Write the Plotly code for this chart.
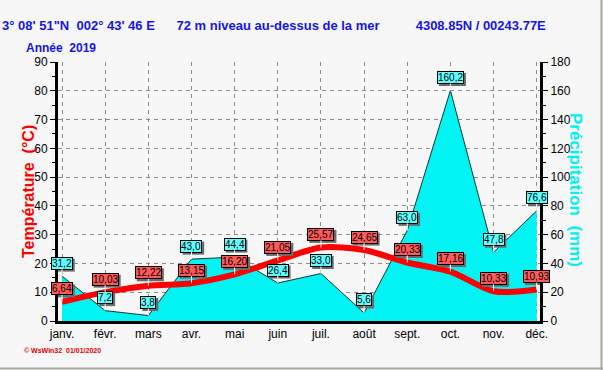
import plotly.graph_objects as go

months = ["janv.", "févr.", "mars", "avr.", "mai", "juin", "juil.", "août", "sept.", "oct.", "nov.", "déc."]
temperature = [6.64, 10.03, 12.22, 13.15, 16.20, 21.05, 25.57, 24.65, 20.33, 17.16, 10.33, 10.93]
precipitation = [31.2, 7.2, 3.8, 43.0, 44.4, 26.4, 33.0, 5.6, 63.0, 160.2, 47.8, 76.6]
temp_ticks = list(range(0, 91, 10))
precip_ticks = list(range(0, 181, 20))

xs = list(range(len(months)))

def fmt(v, d):
    return f"{v:.{d}f}".replace(".", ",")

fig = go.Figure()
fig.add_trace(go.Scatter(
    x=xs, y=precipitation, yaxis="y", mode="lines",
    fill="tozeroy", fillcolor="#00f4f4",
    line=dict(color="#103838", width=1), hoverinfo="skip", showlegend=False))
fig.add_trace(go.Scatter(
    x=xs, y=temperature, yaxis="y2", mode="lines",
    line=dict(color="#ff0000", width=6, shape="spline", smoothing=0.8),
    hoverinfo="skip", showlegend=False))

annotations = []
shapes = []

def text_width(t):
    return sum(2.78 if c == "," else 5.56 for c in t) + 2

def label(x, y, yref, text, bg):
    w = text_width(text)
    # drop shadow (pixel-sized rectangle anchored at the data point)
    shapes.append(dict(type="rect", xref="x", yref=yref, xsizemode="pixel", ysizemode="pixel",
                       xanchor=x, yanchor=y, x0=-w / 2 + 2, x1=w / 2 + 2, y0=4.5, y1=17.5,
                       fillcolor="#6a6a6a", line=dict(width=0), layer="above"))
    annotations.append(dict(x=x, y=y, xref="x", yref=yref, text=text, showarrow=True,
                            arrowcolor="#ffffff", arrowwidth=1, arrowhead=0, ax=0, ay=-13,
                            standoff=0, startstandoff=0,
                            font=dict(family="Arial", size=10, color="#000000"),
                            bgcolor=bg, bordercolor="#000000", borderwidth=1, borderpad=0))

for i, v in enumerate(precipitation):
    label(i, v, "y", fmt(v, 1), "#60ffff")
for i, v in enumerate(temperature):
    label(i, v, "y2", fmt(v, 2), "#ff5a5a")

def px_x(p):
    return (p - 58) / 482.0

def px_y(p):
    return (321 - p) / 259.0

annotations += [
    dict(x=px_x(0), y=px_y(25), xref="paper", yref="paper", xanchor="left", yanchor="middle",
         text="3° 08' 51\"N  002° 43' 46 E      72 m niveau au-dessus de la mer          4308.85N / 00243.77E",
         showarrow=False, font=dict(family="Arial", size=13, color="#1414e6", weight="bold")),
    dict(x=px_x(24), y=px_y(48), xref="paper", yref="paper", xanchor="left", yanchor="middle",
         text="Année  2019", showarrow=False,
         font=dict(family="Arial", size=12, color="#1414e6", weight="bold")),
    dict(x=px_x(28), y=px_y(192), xref="paper", yref="paper", xanchor="center", yanchor="middle",
         text="Température  (°C)", textangle=-90, showarrow=False,
         font=dict(family="Arial", size=16, color="#ff0000", weight="bold")),
    dict(x=px_x(576), y=px_y(190), xref="paper", yref="paper", xanchor="center", yanchor="middle",
         text="Précipitation  (mm)", textangle=90, showarrow=False,
         font=dict(family="Arial", size=17, color="#00f0f0", weight="bold")),
    dict(x=px_x(22), y=px_y(350), xref="paper", yref="paper", xanchor="left", yanchor="middle",
         text="© WsWin32  01/01/2020", showarrow=False,
         font=dict(family="Arial", size=7, color="#e00000", weight="bold")),
]

shapes += [
    dict(type="line", xref="paper", yref="paper", x0=px_x(601.5), x1=px_x(601.5),
         y0=px_y(0), y1=px_y(370), line=dict(color="#a8a8a0", width=2)),
    dict(type="line", xref="paper", yref="paper", x0=px_x(0), x1=px_x(603),
         y0=px_y(368.5), y1=px_y(368.5), line=dict(color="#a8a8a0", width=2)),
]

grid = dict(showgrid=True, gridcolor="#8c8c8c", gridwidth=1, griddash="4px,4px")

fig.update_layout(
    width=603, height=370,
    margin=dict(l=58, r=63, t=62, b=49),
    paper_bgcolor="#f7f7f7", plot_bgcolor="#f7f7f7",
    font=dict(family="Arial", size=12, color="#000000"),
    xaxis=dict(range=[-0.093, 11.076], tickvals=xs, ticktext=months, ticks="",
               showline=True, linewidth=3, linecolor="#000000", zeroline=False,
               tickfont=dict(size=12), **grid),
    yaxis=dict(range=[0, 180], tickvals=precip_ticks, side="right", ticks="outside",
               ticklen=5, tickwidth=1, tickcolor="#000000", showline=True, linewidth=3,
               linecolor="#000000", zeroline=False, tickfont=dict(size=12),
               minor=dict(dtick=10, ticks="outside", ticklen=3, tickcolor="#000000", showgrid=False),
               **grid),
    yaxis2=dict(range=[0, 90], tickvals=temp_ticks, side="left", overlaying="y",
                ticks="outside", ticklen=5, tickwidth=1, tickcolor="#000000",
                showline=True, linewidth=3, linecolor="#000000", zeroline=False,
                showgrid=False, tickfont=dict(size=12),
                minor=dict(dtick=5, ticks="outside", ticklen=3, tickcolor="#000000")),
    annotations=annotations,
    shapes=shapes,
    showlegend=False,
)

fig.write_html("out.html", config={"displayModeBar": False},
               post_script="document.body.style.margin='0';document.body.style.background='#f7f7f7';")
